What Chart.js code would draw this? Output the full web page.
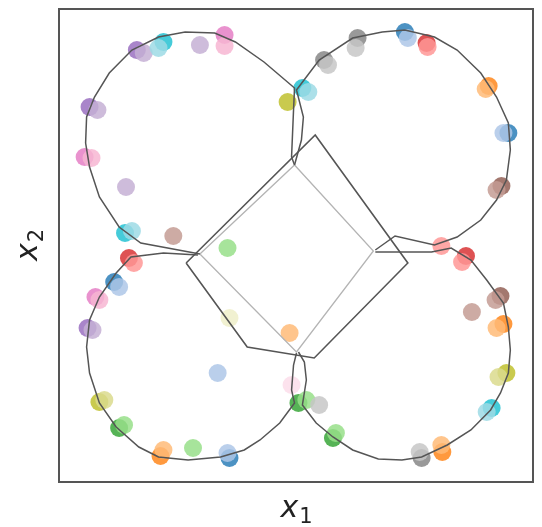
<!DOCTYPE html>
<html>
<head>
<meta charset="utf-8">
<script src="https://cdn.jsdelivr.net/npm/chart.js@4/dist/chart.umd.min.js"></script>
<style>
  html, body { margin: 0; padding: 0; background: #fff; }
  canvas { display: block; }
</style>
</head>
<body>
<canvas id="c" width="542" height="527"></canvas>
<script>
// ---- data -------------------------------------------------------------
// Closed paths: four loops around the corners, joined at the inner square
const tlX = [-0.98,-1.58,-1.80,-2.00,-2.10,-2.14,-2.13,-2.05,-1.90,-1.67,-1.40,-1.13,-0.83,-0.62,-0.33,-0.02,-0.03,-0.05,-0.02];
const tlY = [-0.09, 0.02, 0.18, 0.48, 0.78, 1.02, 1.28, 1.48, 1.72, 1.95, 2.08, 2.13, 2.12, 2.03, 1.83, 1.57, 1.35, 0.88, 0.80];

const trX = [-0.02,0.05,0.07,0.00,0.23,0.57,0.87,1.10,1.40,1.63,1.87,2.03,2.15,2.17,2.13,2.03,1.87,1.63,1.40,1.00,0.80];
const trY = [ 0.80,1.05,1.28,1.55,1.85,2.07,2.13,2.15,2.08,1.95,1.72,1.48,1.22,0.95,0.65,0.45,0.25,0.08,0.00,0.09,-0.05];

const brX = [ 0.80, 1.37, 1.57, 1.77, 1.93, 2.10, 2.15, 2.17, 2.15, 2.07, 1.97, 1.77, 1.53, 1.27, 1.07, 0.83, 0.57, 0.37, 0.20, 0.06, 0.10, 0.08, 0.02];
const brY = [-0.07,-0.07,-0.03,-0.15,-0.35,-0.58,-0.82,-1.05,-1.28,-1.48,-1.65,-1.85,-2.00,-2.12,-2.15,-2.14,-2.05,-1.92,-1.78,-1.60,-1.35,-1.17,-1.07];

const blX = [ 0.00,-0.03,-0.05,-0.02,-0.17,-0.37,-0.53,-0.77,-1.10,-1.40,-1.60,-1.83,-2.00,-2.10,-2.13,-2.10,-2.00,-1.83,-1.68,-1.35,-1.00];
const blY = [-1.08,-1.20,-1.45,-1.58,-1.78,-1.95,-2.05,-2.12,-2.15,-2.12,-2.02,-1.82,-1.58,-1.28,-1.02,-0.75,-0.52,-0.28,-0.12,-0.08,-0.10];

// Outer (dark) quadrilateral and inner (light) square
const outerX = [-1.12, 0.19, 1.13, 0.18,-0.50,-1.12];
const outerY = [-0.18, 1.10,-0.18,-1.13,-1.02,-0.18];
const innerX = [-0.98,-0.02, 0.78, 0.00,-0.98];
const innerY = [-0.09, 0.80,-0.06,-1.07,-0.09];

// Samples: class index 0..9
const darkX = [-1.62,-1.35,-0.73,-2.10,-2.15,-1.74, 0.06,-0.09, 0.62, 0.28, 1.10, 1.32, 1.95, 2.15, 2.08, 1.72, 2.07, 2.10, 2.13, 1.98, 1.48, 1.27, 0.37, 0.02,-1.70,-1.85,-2.04,-2.12,-2.00,-1.80,-1.38,-0.68];
const darkY = [ 1.95, 2.03, 2.10, 1.38, 0.88, 0.12, 1.57, 1.43, 2.07, 1.85, 2.13, 2.02, 1.59, 1.12, 0.59,-0.11,-0.51,-0.79,-1.28,-1.63,-2.07,-2.13,-1.93,-1.58,-0.13,-0.37,-0.52,-0.83,-1.57,-1.83,-2.11,-2.13];
const darkClass = [4,9,6,4,6,9,9,8,7,7,0,3,1,0,5,3,5,1,8,9,1,7,2,2,3,0,6,4,8,2,1,0];

const lightX = [-1.55,-1.40,-0.98,-0.73,-2.02,-2.08,-1.73,-1.67,-1.25,-0.70, 0.12, 0.60, 0.32, 1.13, 1.33, 1.92, 2.10, 2.03, 1.47, 1.68, 2.02, 1.78, 2.03, 2.05, 1.93, 1.47, 1.25, 0.40, 0.10, 0.23,-0.07,-1.65,-1.80,-2.00,-2.07,-0.80,-1.95,-1.75,-1.35,-1.05,-0.70];
const lightY = [ 1.92, 1.97, 2.00, 1.99, 1.35, 0.87, 0.58, 0.14, 0.09,-0.03, 1.53, 1.97, 1.80, 2.07, 1.98, 1.56, 1.12, 0.55,-0.01,-0.17,-0.55,-0.67,-0.83,-1.32,-1.67,-2.00,-2.07,-1.88,-1.55,-1.60,-0.88,-0.18,-0.42,-0.55,-0.85,-1.28,-1.55,-1.80,-2.05,-2.03,-2.08];
const lightClass = [4,9,4,6,4,6,4,9,5,2,9,7,7,0,3,1,0,5,3,3,5,5,1,8,9,1,7,2,2,7,1,3,0,6,4,0,8,2,1,2,0];

const faintX = [-0.68,-0.05];
const faintY = [-0.73,-1.40];
const faintClass = [8,6];

// Axis labels: italic symbol plus upright subscript
const xLabel = { sym: 'x', sub: '1' };
const yLabel = { sym: 'x', sub: '2' };

// ---- styling -----------------------------------------------------------
const TAB10 = ['#1f77b4','#ff7f0e','#2ca02c','#d62728','#9467bd','#8c564b','#e377c2','#7f7f7f','#bcbd22','#17becf'];
const TAB10_LIGHT = ['#aec7e8','#ffbb78','#98df8a','#ff9896','#c5b0d5','#c49c94','#f7b6d2','#c7c7c7','#dbdb8d','#9edae5'];

function rgba(hex, a) {
  const n = parseInt(hex.slice(1), 16);
  return `rgba(${(n >> 16) & 255},${(n >> 8) & 255},${n & 255},${a})`;
}
const zip = (xs, ys) => xs.map((x, i) => ({ x, y: ys[i] }));

const pathStyle = (xs, ys, color, width) => ({
  type: 'scatter',
  data: zip(xs, ys),
  showLine: true,
  borderColor: color,
  borderWidth: width,
  pointRadius: 0,
  tension: 0,
  fill: false,
  order: 0
});

const pointStyle = (xs, ys, cls, pal, alpha, order) => ({
  type: 'scatter',
  data: zip(xs, ys),
  pointRadius: 9,
  pointHoverRadius: 9,
  pointBorderWidth: 0,
  backgroundColor: cls.map(c => rgba(pal[c], alpha)),
  borderColor: 'rgba(0,0,0,0)',
  order
});

const DARK_LINE = '#555555';
const LIGHT_LINE = '#b4b4b4';

const datasets = [
  pathStyle(tlX, tlY, DARK_LINE, 1.5),
  pathStyle(trX, trY, DARK_LINE, 1.5),
  pathStyle(brX, brY, DARK_LINE, 1.5),
  pathStyle(blX, blY, DARK_LINE, 1.5),
  pathStyle(outerX, outerY, DARK_LINE, 1.6),
  pathStyle(innerX, innerY, LIGHT_LINE, 1.3),
  pointStyle(lightX, lightY, lightClass, TAB10_LIGHT, 0.85, 1),
  pointStyle(darkX, darkY, darkClass, TAB10, 0.8, 2),
  pointStyle(faintX, faintY, faintClass, TAB10_LIGHT, 0.4, 3)
];

const FRAME = '#555555';
const frameAxis = (pos) => ({
  type: 'linear',
  position: pos,
  display: true,
  ticks: { display: false },
  grid: { display: false, drawTicks: false },
  border: { display: true, color: FRAME, width: 2 },
  afterFit: (s) => { if (s.isHorizontal()) s.height = 0; else s.width = 0; }
});

// Math-style axis labels: italic "x" with a smaller upright subscript
const SYM_FONT = 'italic 30px "DejaVu Sans"';
const SUB_FONT = '21px "DejaVu Sans"';
const SUB_DROP = 6;

function drawMathLabel(ctx, label, cx, baseline) {
  ctx.font = SYM_FONT;
  const w1 = ctx.measureText(label.sym).width;
  ctx.font = SUB_FONT;
  const w2 = ctx.measureText(label.sub).width;
  const x0 = cx - (w1 + w2) / 2;
  ctx.textBaseline = 'alphabetic';
  ctx.textAlign = 'left';
  ctx.font = SYM_FONT;
  ctx.fillText(label.sym, x0, baseline);
  ctx.font = SUB_FONT;
  ctx.fillText(label.sub, x0 + w1 + 1, baseline + SUB_DROP);
}

const axisLabels = {
  id: 'axisLabels',
  afterDraw(chart) {
    const { ctx, chartArea: a } = chart;
    ctx.save();
    ctx.fillStyle = '#222';
    drawMathLabel(ctx, xLabel, (a.left + a.right) / 2, a.bottom + 35);
    ctx.translate(a.left - 22, (a.top + a.bottom) / 2);
    ctx.rotate(-Math.PI / 2);
    drawMathLabel(ctx, yLabel, 0, 0);
    ctx.restore();
  }
};

new Chart(document.getElementById('c'), {
  type: 'scatter',
  data: { datasets },
  options: {
    responsive: false,
    animation: false,
    devicePixelRatio: 1,
    layout: { padding: { left: 59, top: 9, right: 2, bottom: 45 } },
    plugins: { legend: { display: false }, tooltip: { enabled: false } },
    scales: {
      x: Object.assign(frameAxis('bottom'), { min: -2.41, max: 2.40 }),
      y: Object.assign(frameAxis('left'), { min: -2.37, max: 2.36 }),
      xTop: frameAxis('top'),
      yRight: frameAxis('right')
    }
  },
  plugins: [axisLabels]
});
</script>
</body>
</html>
